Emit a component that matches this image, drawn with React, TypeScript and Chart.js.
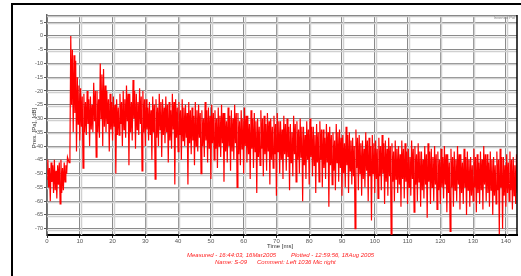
import { useEffect, useRef } from 'react';
import { Chart, registerables } from 'chart.js';
Chart.register(...registerables);

const xTickValues = [0, 10, 20, 30, 40, 50, 60, 70, 80, 90, 100, 110, 120, 130, 140];
const yTickValues = [5, 0, -5, -10, -15, -20, -25, -30, -35, -40, -45, -50, -55, -60, -65, -70];
const X_MIN = 0;
const X_MAX = 143.4;
const Y_MIN = -72.3;
const Y_MAX = 7.6;

// peaks, sampled at t + 0.25 ms (t = 0..143)
const upperDb = [
  -45, -46, -45, -47, -45, -46, -44, 0, -7, -15,
  -19, -21, -20, -22, -17, -20, -10, -12, -20, -21,
  -22, -23, -21, -20, -18, -21, -16, -21, -19, -20,
  -23, -24, -22, -23, -21, -23, -22, -24, -21, -23,
  -24, -23, -25, -24, -26, -24, -25, -27, -24, -26,
  -25, -27, -26, -25, -28, -26, -27, -25, -28, -27,
  -26, -29, -27, -28, -30, -27, -29, -28, -30, -29,
  -28, -31, -29, -30, -32, -29, -31, -30, -33, -31,
  -30, -33, -32, -31, -34, -32, -33, -35, -32, -34,
  -36, -33, -35, -37, -34, -36, -38, -35, -37, -36,
  -38, -37, -36, -38, -37, -39, -38, -40, -38, -39,
  -41, -38, -40, -39, -42, -40, -39, -41, -40, -42,
  -41, -40, -43, -41, -42, -40, -43, -41, -42, -44,
  -41, -43, -42, -40, -43, -42, -44, -42, -41, -44,
  -43, -42, -44, -43,
];

// secondary peaks, sampled at t + 0.75 ms
const hiCoreDb = [
  -48, -47, -49, -46, -48, -47, -46, -5, -9, -18,
  -22, -24, -23, -25, -20, -23, -14, -18, -23, -24,
  -25, -26, -24, -23, -21, -24, -20, -24, -22, -23,
  -26, -27, -25, -26, -24, -26, -25, -27, -24, -26,
  -27, -26, -28, -27, -29, -27, -28, -30, -27, -29,
  -28, -30, -29, -28, -31, -29, -30, -28, -31, -30,
  -29, -32, -30, -31, -33, -30, -32, -31, -33, -32,
  -31, -34, -32, -33, -35, -32, -34, -33, -36, -34,
  -33, -36, -35, -34, -37, -35, -36, -38, -35, -37,
  -39, -36, -38, -40, -37, -39, -41, -38, -40, -39,
  -41, -40, -39, -41, -40, -42, -41, -43, -41, -42,
  -44, -41, -43, -42, -45, -43, -42, -44, -43, -45,
  -44, -43, -46, -44, -45, -43, -46, -44, -45, -47,
  -44, -46, -45, -43, -46, -45, -47, -45, -44, -47,
  -46, -45, -47, -46,
];

// dense lower edge, sampled at t + 0.5 ms
const loCoreDb = [
  -55, -53, -56, -54, -57, -53, -45, -25, -28, -32,
  -33, -35, -32, -34, -31, -35, -30, -33, -32, -34,
  -33, -36, -32, -34, -31, -35, -30, -34, -32, -35,
  -34, -36, -35, -37, -34, -36, -35, -38, -34, -37,
  -36, -38, -37, -39, -38, -40, -37, -40, -38, -41,
  -39, -41, -40, -39, -42, -40, -42, -39, -43, -41,
  -40, -43, -41, -42, -44, -41, -43, -42, -45, -43,
  -42, -45, -43, -44, -46, -43, -45, -44, -47, -45,
  -44, -47, -46, -45, -48, -46, -47, -49, -46, -48,
  -50, -47, -49, -51, -48, -50, -52, -49, -51, -50,
  -52, -51, -50, -53, -51, -53, -52, -54, -52, -53,
  -55, -52, -54, -53, -56, -54, -53, -55, -54, -56,
  -55, -54, -57, -55, -56, -54, -57, -55, -56, -58,
  -55, -57, -56, -54, -57, -56, -58, -56, -55, -58,
  -57, -56, -58, -57,
];

// troughs, sampled at t ms
const lowerDb = [
  -52, -60, -57, -59, -61, -56, -50, -42, -35, -42,
  -38, -48, -36, -40, -35, -44, -37, -40, -35, -42,
  -38, -50, -36, -40, -37, -47, -38, -41, -36, -49,
  -40, -38, -45, -52, -40, -44, -39, -46, -41, -54,
  -42, -45, -40, -54, -43, -47, -42, -50, -44, -46,
  -52, -45, -48, -44, -53, -46, -49, -45, -55, -47,
  -50, -46, -52, -48, -57, -47, -51, -49, -54, -48,
  -58, -50, -52, -49, -56, -51, -53, -50, -60, -52,
  -54, -51, -57, -53, -55, -52, -62, -54, -56, -53,
  -58, -55, -57, -54, -70, -56, -58, -55, -60, -67,
  -57, -59, -56, -61, -58, -72, -60, -57, -62, -59,
  -61, -58, -64, -60, -62, -59, -66, -61, -60, -63,
  -61, -59, -64, -71, -62, -60, -63, -61, -65, -62,
  -60, -64, -61, -63, -60, -62, -65, -61, -72, -70,
  -62, -60, -63, -61,
];

const FONT = '"Liberation Sans", Arial, sans-serif';

const decor = {
  id: 'decor',
  beforeDatasetsDraw(chart: any) {
    const { ctx, chartArea: a, scales } = chart;
    ctx.save();
    ctx.strokeStyle = '#d0d0d0';
    ctx.lineWidth = 1.5;
    for (const v of xTickValues) {
      const px = Math.round(scales.x.getPixelForValue(v)) + 1.5;
      if (v === 0) continue;
      ctx.beginPath();
      ctx.moveTo(px, a.top);
      ctx.lineTo(px, a.bottom);
      ctx.stroke();
    }
    for (const v of yTickValues) {
      const py = Math.round(scales.y.getPixelForValue(v)) + 1.5;
      ctx.beginPath();
      ctx.moveTo(a.left, py);
      ctx.lineTo(a.right, py);
      ctx.stroke();
    }
    ctx.strokeStyle = '#c8c8c8';
    ctx.beginPath();
    ctx.moveTo(a.left, a.top + 1.5);
    ctx.lineTo(a.right, a.top + 1.5);
    ctx.stroke();
    ctx.strokeStyle = '#888';
    ctx.lineWidth = 1;
    ctx.beginPath();
    ctx.moveTo(a.left, a.top + 0.5);
    ctx.lineTo(a.right, a.top + 0.5);
    ctx.stroke();
    ctx.restore();
  },
  afterDraw(chart: any) {
    const { ctx, chartArea: a } = chart;
    ctx.save();
    ctx.strokeStyle = '#000';
    ctx.lineWidth = 1.5;
    ctx.beginPath();
    ctx.moveTo(a.right, a.top);
    ctx.lineTo(a.right, a.bottom);
    ctx.stroke();
    ctx.lineWidth = 2;
    ctx.beginPath();
    ctx.moveTo(12, 276);
    ctx.lineTo(12, 4);
    ctx.lineTo(521, 4);
    ctx.stroke();
    ctx.fillStyle = '#333';
    ctx.font = `6px ${FONT}`;
    ctx.textAlign = 'center';
    ctx.textBaseline = 'middle';
    ctx.fillText('Time [ms]', 280, 246);
    ctx.save();
    ctx.translate(34, 128);
    ctx.rotate(-Math.PI / 2);
    ctx.fillText('Pres. [Pa], [dB]', 0, 0);
    ctx.restore();
    ctx.fillStyle = '#888';
    ctx.font = `4px ${FONT}`;
    ctx.textAlign = 'right';
    ctx.fillText('Inverted Pol', 515, 18);
    ctx.fillStyle = '#ff2020';
    ctx.font = `italic 6px ${FONT}`;
    ctx.textAlign = 'left';
    ctx.fillText('Measured - 16:44:03, 16Mar2005', 187, 255);
    ctx.fillText('Plotted - 12:59:56, 18Aug 2005', 291, 255);
    ctx.fillText('Name: S-09', 215, 262.5);
    ctx.fillText('Comment: Left 1036 Mic right', 257, 262.5);
    ctx.restore();
  },
};

export default function App() {
  const ref = useRef<HTMLCanvasElement>(null);
  useEffect(() => {
    document.body.style.margin = '0';
    const points: { x: number; y: number }[] = [];
    for (let i = 0; i < lowerDb.length; i++) {
      points.push({ x: i, y: lowerDb[i] });
      points.push({ x: i + 0.25, y: upperDb[i] });
      points.push({ x: i + 0.5, y: loCoreDb[i] });
      points.push({ x: i + 0.75, y: hiCoreDb[i] });
    }
    const chart = new Chart(ref.current!, {
      type: 'line',
      data: {
        datasets: [
          {
            data: points,
            borderColor: '#ff0000',
            borderWidth: 1.2,
            pointRadius: 0,
            tension: 0,
            fill: false,
          },
        ],
      },
      options: {
        animation: false,
        responsive: false,
        maintainAspectRatio: false,
        parsing: false,
        layout: { padding: { left: 0, right: 4, top: 15, bottom: 0 } },
        plugins: { legend: { display: false }, tooltip: { enabled: false } },
        scales: {
          x: {
            type: 'linear',
            min: X_MIN,
            max: X_MAX,
            afterBuildTicks: (s: any) => {
              s.ticks = xTickValues.map((v) => ({ value: v }));
            },
            afterFit: (s: any) => {
              s.height = 41;
            },
            ticks: {
              autoSkip: false,
              maxRotation: 0,
              padding: 0,
              color: '#555',
              font: { family: FONT, size: 6 },
            },
            grid: { color: '#8a8a8a', lineWidth: 1, tickLength: 3, tickColor: '#333' },
            border: { color: '#000', width: 2 },
          },
          y: {
            type: 'linear',
            min: Y_MIN,
            max: Y_MAX,
            afterBuildTicks: (s: any) => {
              s.ticks = yTickValues.map((v) => ({ value: v }));
            },
            afterFit: (s: any) => {
              s.width = 47;
            },
            ticks: {
              autoSkip: false,
              padding: 1,
              color: '#555',
              font: { family: FONT, size: 5.5 },
            },
            grid: { color: '#8a8a8a', lineWidth: 1, tickLength: 3, tickColor: '#555' },
            border: { color: '#666', width: 1.5 },
          },
        },
      },
      plugins: [decor],
    });
    return () => chart.destroy();
  }, []);
  return (
    <div style={{ position: 'absolute', left: 0, top: 0, width: 521, height: 276, background: '#fff' }}>
      <canvas ref={ref} width={521} height={276} style={{ width: 521, height: 276, display: 'block' }} />
    </div>
  );
}
